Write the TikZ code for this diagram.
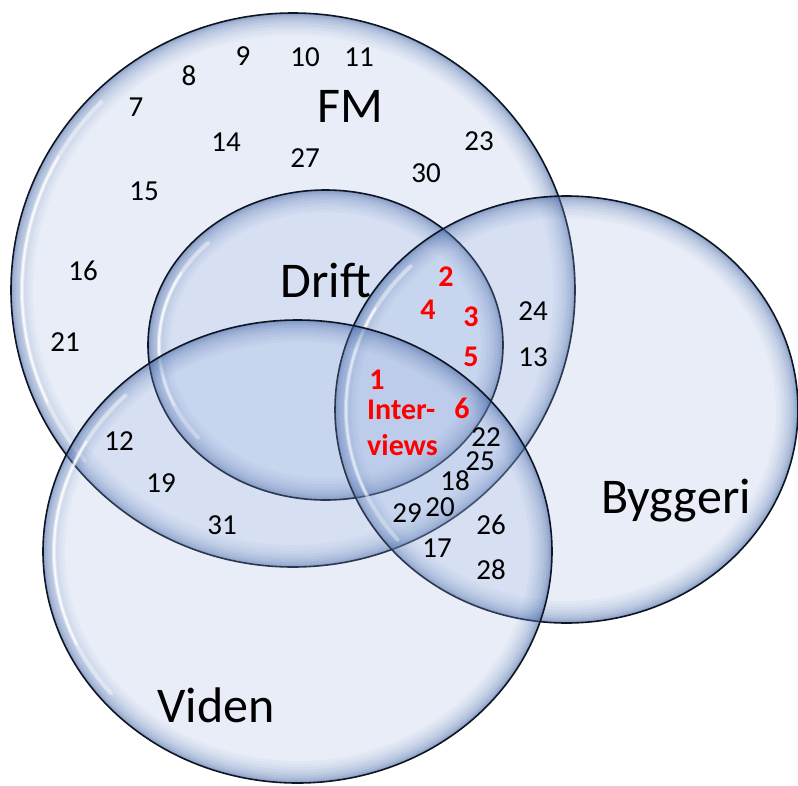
\documentclass[tikz,border=0pt]{standalone}
\usepackage{fontspec}
\setmainfont{Carlito}
\begin{document}
\begin{tikzpicture}[x=1pt,y=-1pt,
  bubfill/.style={fill={rgb,255:red,150;green,175;blue,222}, fill opacity=0.22},
  edgeband/.style={draw={rgb,255:red,60;green,95;blue,160}},
  outline/.style={draw={rgb,255:red,15;green,22;blue,35}, line width=1.6pt},
  num/.style={font=\fontsize{29}{34}\selectfont, inner sep=0pt, text=black},
  rnum/.style={font=\bfseries\fontsize{30}{36}\selectfont, inner sep=0pt, text=red},
  setlabel/.style={font=\fontsize{50}{58}\selectfont, inner sep=0pt, anchor=base, text=black}]
\useasboundingbox (0,0) rectangle (798,785);
\newcommand\vbubble[4]{%
  \begin{scope}
    \clip (#1,#2) ellipse [x radius=#3pt, y radius=#4pt];
    \fill[bubfill] (#1,#2) ellipse [x radius=#3pt, y radius=#4pt];
    \foreach \w/\o in {44/0.04,38/0.04,32/0.05,26/0.06,20/0.07,15/0.08,10/0.10,6/0.12,3/0.14}{
      \draw[edgeband, opacity=\o, line width=\w pt] (#1,#2) ellipse [x radius=#3pt, y radius=#4pt];}
    \draw[white, opacity=0.45, line width=4pt, line cap=round]
      plot[domain=140:225, samples=50] ({#1+(#3-11)*cos(\x)}, {#2+(#4-11)*sin(\x)});
    \draw[white, opacity=0.75, line width=2pt, line cap=round]
      plot[domain=155:210, samples=50] ({#1+(#3-11)*cos(\x)}, {#2+(#4-11)*sin(\x)});
  \end{scope}
  \draw[outline] (#1,#2) ellipse [x radius=#3pt, y radius=#4pt];}
% FM
\vbubble{293}{290}{282}{277}
% Drift
\vbubble{325.5}{345}{177.5}{155}
% Byggeri
\vbubble{566.5}{409.5}{231.5}{213.5}
% Viden
\vbubble{297.5}{551.5}{254.5}{231.5}

% set labels
\node[setlabel] (fm) at (350,122) {FM};
\node[setlabel] (drift) at (326,297) {Drift};
\node[setlabel] (byg) at (676,513) {Byggeri};
\node[setlabel] (viden) at (216,722) {Viden};

% black numbers
\node[num] (n7) at (136,107) {7};
\node[num] (n8) at (189,76) {8};
\node[num] (n9) at (243,56) {9};
\node[num] (n10) at (305,57) {10};
\node[num] (n11) at (359,57) {11};
\node[num] (n14) at (226,142) {14};
\node[num] (n27) at (305,158) {27};
\node[num] (n23) at (479,141) {23};
\node[num] (n30) at (426,173) {30};
\node[num] (n15) at (144,191) {15};
\node[num] (n16) at (83,271) {16};
\node[num] (n21) at (65,342) {21};
\node[num] (n24) at (533,311) {24};
\node[num] (n13) at (533,357) {13};
\node[num] (n12) at (119,441) {12};
\node[num] (n19) at (161,483) {19};
\node[num] (n31) at (222,525) {31};
\node[num] (n22) at (486,437) {22};
\node[num] (n25) at (480,461) {25};
\node[num] (n18) at (455,481) {18};
\node[num] (n29) at (407,513) {29};
\node[num] (n20) at (440,507) {20};
\node[num] (n26) at (491,525) {26};
\node[num] (n17) at (437,548) {17};
\node[num] (n28) at (491,570) {28};

% red numbers
\node[rnum] (r2) at (446,277) {2};
\node[rnum] (r4) at (428,310) {4};
\node[rnum] (r3) at (471,317) {3};
\node[rnum] (r5) at (471,357) {5};
\node[rnum] (r1) at (377,380) {1};
\node[rnum] (r6) at (462,408) {6};
\node[rnum, anchor=base west] (inter) at (367,419) {Inter-};
\node[rnum, anchor=base west] (views) at (367,455) {views};
\end{tikzpicture}
\end{document}
